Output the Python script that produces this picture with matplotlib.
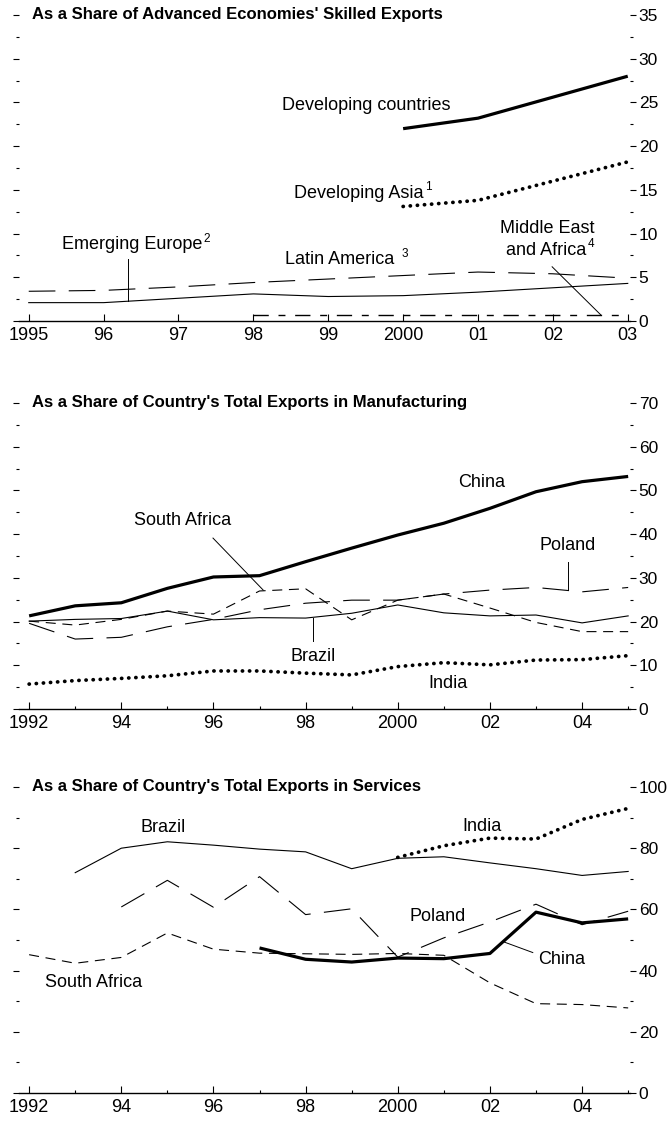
"""
Skilled exports shares: three stacked panels (advanced-economy share,
manufacturing share, services share).
"""

import numpy as np
import matplotlib
matplotlib.use("Agg")
import matplotlib.pyplot as plt
from matplotlib import font_manager
from matplotlib.ticker import MultipleLocator

# ---------------------------------------------------------------- data
# Panel 1: share of advanced economies' skilled exports
YEARS_A = np.arange(1995, 2004)
DEV_COUNTRIES = [np.nan] * 5 + [22.0, 23.2, 25.6, 28.0]
DEV_ASIA = [np.nan] * 5 + [13.1, 13.8, 16.0, 18.2]
LATIN_AMERICA = [3.4, 3.5, 3.9, 4.4, 4.8, 5.2, 5.6, 5.4, 4.9]
EMERGING_EUROPE = [2.1, 2.1, 2.6, 3.1, 2.8, 2.9, 3.3, 3.8, 4.3]
MIDEAST_AFRICA = [np.nan] * 3 + [0.7, 0.7, 0.7, 0.7, 0.7, 0.7]
XLABELS_A = ["1995", "96", "97", "98", "99", "2000", "01", "02", "03"]

# Panel 2: share of country's total exports in manufacturing
YEARS_B = np.arange(1992, 2006)
MAN_CHINA = [21.3, 23.6, 24.3, 27.6, 30.2, 30.5, 33.7, 36.8, 39.8, 42.5, 45.9, 49.7, 52.0, 53.2]
MAN_SAFRICA = [20.1, 19.2, 20.5, 22.4, 21.7, 27.0, 27.5, 20.4, 24.9, 26.3, 23.1, 19.8, 17.7, 17.7]
MAN_BRAZIL = [20.1, 20.5, 20.7, 22.4, 20.4, 20.9, 20.8, 21.9, 23.8, 22.0, 21.3, 21.5, 19.7, 21.3]
MAN_POLAND = [19.6, 16.0, 16.4, 18.8, 20.5, 22.7, 24.2, 24.9, 24.9, 26.3, 27.2, 27.8, 26.8, 27.8]
MAN_INDIA = [5.7, 6.5, 7.0, 7.6, 8.7, 8.7, 8.2, 7.8, 9.7, 10.6, 10.1, 11.2, 11.3, 12.2]

# Panel 3: share of country's total exports in services
SRV_BRAZIL = [np.nan, 72.0, 80.0, 82.1, 81.0, 79.7, 78.8, 73.3, 76.7, 77.2, 75.2, 73.3, 71.1, 72.4]
SRV_POLAND = [np.nan, np.nan, 60.8, 69.5, 60.7, 70.7, 58.3, 60.2, 44.4, 50.7, 55.9, 61.7, 55.0, 59.4]
SRV_SAFRICA = [45.2, 42.4, 44.3, 52.3, 47.0, 45.7, 45.5, 45.3, 45.6, 45.0, 36.0, 29.2, 28.9, 27.8]
SRV_CHINA = [np.nan] * 5 + [47.4, 43.7, 42.8, 44.1, 43.9, 45.6, 59.1, 55.6, 56.9]
SRV_INDIA = [np.nan] * 8 + [77.0, 80.8, 83.3, 83.0, 89.4, 93.0]

XLABELS_B = ["1992", "94", "96", "98", "2000", "02", "04"]

# ---------------------------------------------------------------- styles
_names = {f.name for f in font_manager.fontManager.ttflist}
if "Liberation Sans Narrow" in _names:
    FONT = ["Liberation Sans Narrow", "DejaVu Sans"]
    FS_XTICK, FS_YTICK, FS_LABEL, FS_SUP, FS_TITLE = 14, 14, 14, 9, 14
else:
    FONT = ["Liberation Sans", "DejaVu Sans"]
    FS_XTICK, FS_YTICK, FS_LABEL, FS_SUP, FS_TITLE = 13, 12.5, 13, 8.5, 12
plt.rcParams["font.family"] = FONT

THICK = dict(color="black", lw=2.3, solid_capstyle="butt")
DOTTED = dict(color="black", lw=2.7, linestyle=(0, (0.05, 1.85)), dash_capstyle="round")
THIN = dict(color="black", lw=0.8)
LONGDASH = dict(color="black", lw=0.8, linestyle=(0, (24, 12)))
SHORTDASH = dict(color="black", lw=0.8, linestyle=(0, (9, 6)))
MIXDASH = dict(color="black", lw=1.0, linestyle=(0, (11, 7, 5, 7)))

W, H = 668, 1121
fig = plt.figure(figsize=(W / 100, H / 100), dpi=100)


def _axes(top_px, bottom_px):
    left_px, right_px = 19, 630
    return fig.add_axes([left_px / W, 1 - bottom_px / H,
                         (right_px - left_px) / W, (bottom_px - top_px) / H])


def _style(ax, ymax, major, minor, title):
    for s in ("top", "left", "right"):
        ax.spines[s].set_visible(False)
    ax.spines["bottom"].set_linewidth(1.0)
    ax.set_ylim(0, ymax)
    ax.yaxis.set_major_locator(MultipleLocator(major))
    ax.yaxis.set_minor_locator(MultipleLocator(minor))
    ax.tick_params(axis="y", which="both", left=True, right=True,
                   labelleft=False, labelright=True, direction="out",
                   width=0.8, labelsize=FS_YTICK, pad=2)
    ax.tick_params(axis="y", which="major", length=4.3)
    ax.tick_params(axis="y", which="minor", length=2.5)
    ax.tick_params(axis="x", which="both", direction="in", width=0.8,
                   labelsize=FS_XTICK, pad=4)
    ax.tick_params(axis="x", which="major", length=5)
    ax.tick_params(axis="x", which="minor", length=2.5)
    ax.text(13 / 611, 1.0, title, transform=ax.transAxes, ha="left",
            va="center", fontsize=FS_TITLE, fontweight="bold")


def _label(ax, x, y, s, sup=None, ha="center"):
    t = ax.text(x, y, s, fontsize=FS_LABEL, ha=ha, va="center")
    if sup:
        fig.canvas.draw()
        bb = t.get_window_extent().transformed(ax.transData.inverted())
        ax.text(bb.x1 + 0.02, y + 0.35 * (bb.y1 - bb.y0), sup,
                fontsize=FS_SUP, ha="left", va="center")


# ---------------------------------------------------------------- panel 1
ax1 = _axes(15, 321)
ax1.plot(YEARS_A, DEV_COUNTRIES, **THICK)
ax1.plot(YEARS_A, DEV_ASIA, **DOTTED)
ax1.plot(YEARS_A, LATIN_AMERICA, **LONGDASH)
ax1.plot(YEARS_A, EMERGING_EUROPE, **THIN)
ax1.plot(YEARS_A, MIDEAST_AFRICA, **MIXDASH)
ax1.set_xlim(1994.87, 2003.03)
ax1.set_xticks(YEARS_A)
ax1.set_xticklabels(XLABELS_A)
_style(ax1, 35, 5, 2.5, "As a Share of Advanced Economies' Skilled Exports")

_label(ax1, 1999.51, 24.7, "Developing countries")
_label(ax1, 2000.27, 14.6, "Developing Asia", sup="1", ha="right")
_label(ax1, 1999.19, 7.0, "Latin America ", sup="3")
_label(ax1, 1996.38, 8.7, "Emerging Europe", sup="2")
_label(ax1, 2001.92, 10.6, "Middle East")
_label(ax1, 2001.91, 8.1, "and Africa", sup="4")
ax1.plot([1996.33, 1996.33], [2.3, 7.1], color="black", lw=0.7)
ax1.plot([2001.99, 2002.64], [6.2, 0.7], color="black", lw=0.7)

# ---------------------------------------------------------------- panel 2
ax2 = _axes(403, 709)
ax2.plot(YEARS_B, MAN_CHINA, **THICK)
ax2.plot(YEARS_B, MAN_SAFRICA, **SHORTDASH)
ax2.plot(YEARS_B, MAN_BRAZIL, **THIN)
ax2.plot(YEARS_B, MAN_POLAND, **LONGDASH)
ax2.plot(YEARS_B, MAN_INDIA, **DOTTED)
ax2.set_xlim(1991.78, 2005.04)
ax2.set_xticks(YEARS_B[::2])
ax2.set_xticklabels(XLABELS_B)
ax2.set_xticks(YEARS_B[1::2], minor=True)
_style(ax2, 70, 10, 5, "As a Share of Country's Total Exports in Manufacturing")

_label(ax2, 2001.83, 51.7, "China")
_label(ax2, 1995.34, 43.2, "South Africa")
_label(ax2, 2003.69, 37.5, "Poland")
_label(ax2, 1998.16, 11.9, "Brazil")
_label(ax2, 2001.09, 5.9, "India")
ax2.plot([1995.99, 1997.08], [39.1, 27.2], color="black", lw=0.7)
ax2.plot([2003.69, 2003.69], [33.6, 27.2], color="black", lw=0.7)
ax2.plot([1998.16, 1998.16], [20.8, 15.6], color="black", lw=0.7)

# ---------------------------------------------------------------- panel 3
ax3 = _axes(787, 1093)
ax3.plot(YEARS_B, SRV_BRAZIL, **THIN)
ax3.plot(YEARS_B, SRV_POLAND, **LONGDASH)
ax3.plot(YEARS_B, SRV_SAFRICA, **SHORTDASH)
ax3.plot(YEARS_B, SRV_CHINA, **THICK)
ax3.plot(YEARS_B, SRV_INDIA, **DOTTED)
ax3.set_xlim(1991.78, 2005.04)
ax3.set_xticks(YEARS_B[::2])
ax3.set_xticklabels(XLABELS_B)
ax3.set_xticks(YEARS_B[1::2], minor=True)
_style(ax3, 100, 20, 10, "As a Share of Country's Total Exports in Services")

_label(ax3, 1994.91, 86.9, "Brazil")
_label(ax3, 2001.83, 87.2, "India")
_label(ax3, 2000.87, 57.7, "Poland")
_label(ax3, 2003.56, 43.6, "China")
_label(ax3, 1993.39, 36.1, "South Africa")
ax3.plot([2002.28, 2002.93], [49.5, 45.9], color="black", lw=0.7)

fig.savefig("out.png", dpi=100)
